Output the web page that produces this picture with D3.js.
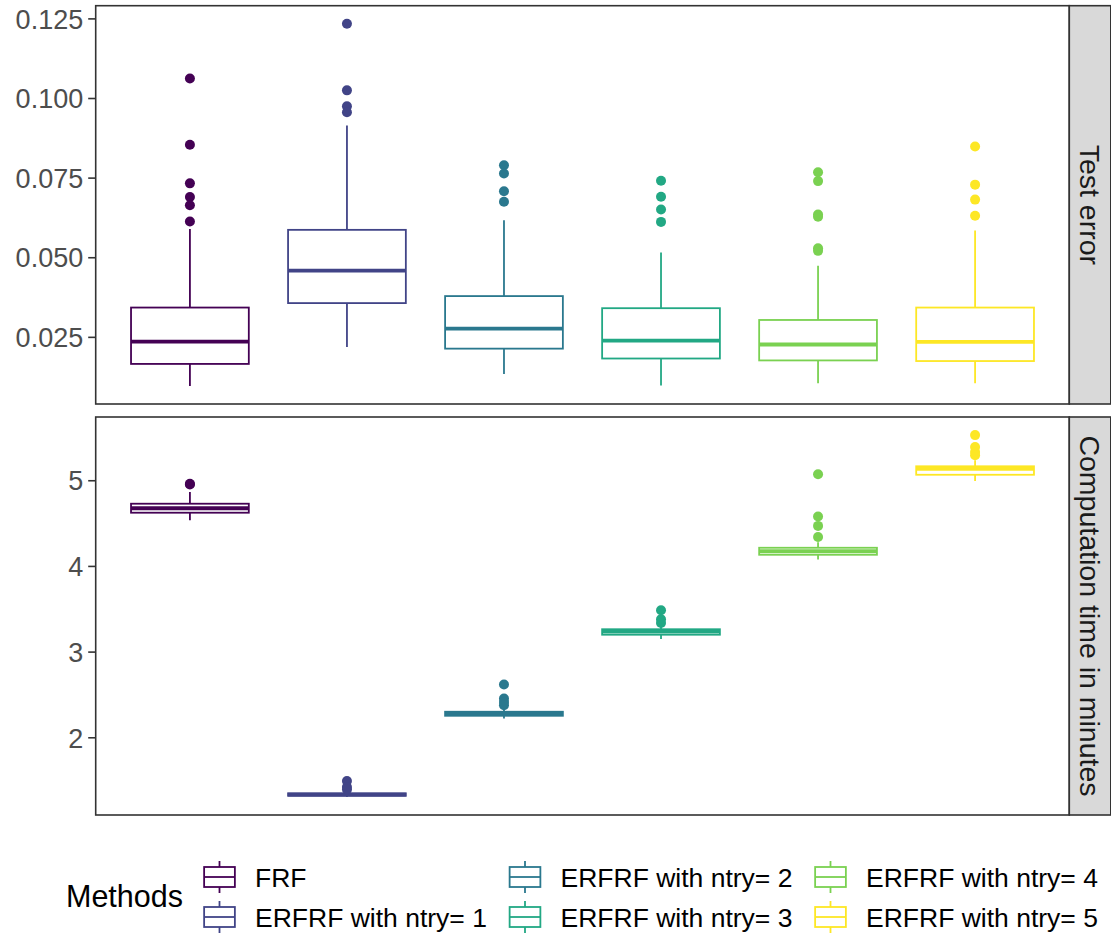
<!DOCTYPE html>
<html>
<head>
<meta charset="utf-8">
<script src="https://cdn.jsdelivr.net/npm/d3@7"></script>
<style>
  body { margin: 0; background: #fff; }
  svg { font-family: "Liberation Sans", Arial, sans-serif; }
</style>
</head>
<body>
<div id="chart"></div>
<script>
// methods and colours (viridis, 6)
const methods = ["FRF", "ERFRF with ntry= 1", "ERFRF with ntry= 2", "ERFRF with ntry= 3", "ERFRF with ntry= 4", "ERFRF with ntry= 5"];
const colors = ["#440154", "#414487", "#2A788E", "#22A884", "#7AD151", "#FDE725"];

// Test error: whiskers, quartiles, median, outliers
const errLow = [0.0096, 0.0218, 0.0133, 0.0097, 0.0104, 0.0104];
const errQ1 = [0.0165, 0.0356, 0.0213, 0.0182, 0.0176, 0.0174];
const errMed = [0.0235, 0.0458, 0.0276, 0.0238, 0.0226, 0.0234];
const errQ3 = [0.0342, 0.0586, 0.0378, 0.0340, 0.0303, 0.0342];
const errHigh = [0.0589, 0.0914, 0.0616, 0.0515, 0.0473, 0.0584];
const errOut = [
  [0.1061, 0.0853, 0.0732, 0.0689, 0.0663, 0.0612],
  [0.1233, 0.1024, 0.0974, 0.0955],
  [0.0789, 0.0763, 0.0707, 0.0674],
  [0.0740, 0.0690, 0.0650, 0.0611],
  [0.0767, 0.0739, 0.0634, 0.0627, 0.0528, 0.0520],
  [0.0848, 0.0728, 0.0681, 0.0630]
];

// Computation time in minutes
const timeLow = [4.533, 1.304, 2.218, 3.148, 4.074, 4.992];
const timeQ1 = [4.621, 1.317, 2.251, 3.197, 4.130, 5.064];
const timeMed = [4.673, 1.331, 2.274, 3.232, 4.171, 5.134];
const timeQ3 = [4.726, 1.346, 2.298, 3.261, 4.212, 5.163];
const timeHigh = [4.863, 1.370, 2.350, 3.296, 4.276, 5.233];
const timeOut = [
  [4.960, 4.950],
  [1.490, 1.420, 1.390],
  [2.615, 2.452, 2.412, 2.374],
  [3.483, 3.378, 3.334],
  [5.070, 4.576, 4.467, 4.338],
  [5.527, 5.389, 5.330, 5.292]
];

const errTicks = [0.025, 0.050, 0.075, 0.100, 0.125];
const timeTicks = [2, 3, 4, 5];

const width = 1111, height = 934;
const left = 95.7, right = 1069.3;
const stripW = 41.5;

const svg = d3.select("#chart").append("svg")
  .attr("width", width)
  .attr("height", height);

const x = d3.scalePoint()
  .domain(methods)
  .range([left, right])
  .padding(0.6);
const boxW = x.step() * 0.75;

function buildStats(lo, q1, med, q3, hi, out) {
  return methods.map((m, i) => ({
    method: m, color: colors[i],
    lo: lo[i], q1: q1[i], med: med[i], q3: q3[i], hi: hi[i], out: out[i]
  }));
}

function expandDomain(stats) {
  const mn = d3.min(stats, d => Math.min(d.lo, d3.min(d.out)));
  const mx = d3.max(stats, d => Math.max(d.hi, d3.max(d.out)));
  const pad = (mx - mn) * 0.05;
  return [mn - pad, mx + pad];
}

function drawPanel(top, bottom, stats, ticks, fmt, label) {
  const y = d3.scaleLinear().domain(expandDomain(stats)).range([bottom, top]);
  const g = svg.append("g");

  // axis
  const axis = g.append("g")
    .attr("transform", `translate(${left},0)`)
    .call(d3.axisLeft(y).tickValues(ticks).tickFormat(fmt).tickSize(7.5).tickPadding(5));
  axis.select(".domain").remove();
  axis.selectAll(".tick line").attr("stroke", "#333333").attr("stroke-width", 1.6);
  axis.selectAll(".tick text")
    .attr("fill", "#4D4D4D")
    .style("font-size", "27px")
    .attr("dy", "0.36em");

  const boxes = g.selectAll(".box").data(stats).enter().append("g");

  boxes.append("line")
    .attr("x1", d => x(d.method)).attr("x2", d => x(d.method))
    .attr("y1", d => y(d.q3)).attr("y2", d => y(d.hi))
    .attr("stroke", d => d.color).attr("stroke-width", 1.8);
  boxes.append("line")
    .attr("x1", d => x(d.method)).attr("x2", d => x(d.method))
    .attr("y1", d => y(d.q1)).attr("y2", d => y(d.lo))
    .attr("stroke", d => d.color).attr("stroke-width", 1.8);
  boxes.append("rect")
    .attr("x", d => x(d.method) - boxW / 2)
    .attr("width", boxW)
    .attr("y", d => y(d.q3))
    .attr("height", d => Math.max(0.1, y(d.q1) - y(d.q3)))
    .attr("fill", "#fff")
    .attr("stroke", d => d.color)
    .attr("stroke-width", 1.8);
  boxes.append("line")
    .attr("x1", d => x(d.method) - boxW / 2).attr("x2", d => x(d.method) + boxW / 2)
    .attr("y1", d => y(d.med)).attr("y2", d => y(d.med))
    .attr("stroke", d => d.color).attr("stroke-width", 3.8);
  boxes.selectAll("circle").data(d => d.out.map(v => ({ v: v, d: d }))).enter()
    .append("circle")
    .attr("cx", o => x(o.d.method))
    .attr("cy", o => y(o.v))
    .attr("r", 5)
    .attr("fill", o => o.d.color);

  // panel border
  g.append("rect")
    .attr("x", left).attr("y", top)
    .attr("width", right - left).attr("height", bottom - top)
    .attr("fill", "none").attr("stroke", "#333333").attr("stroke-width", 1.6);

  // strip
  g.append("rect")
    .attr("x", right).attr("y", top)
    .attr("width", stripW).attr("height", bottom - top)
    .attr("fill", "#D9D9D9").attr("stroke", "#333333").attr("stroke-width", 1.6);
  g.append("text")
    .attr("transform", `translate(${right + stripW / 2},${(top + bottom) / 2}) rotate(90)`)
    .attr("text-anchor", "middle")
    .attr("dy", "0.36em")
    .attr("fill", "#1A1A1A")
    .style("font-size", "28.5px")
    .text(label);
}

drawPanel(5.7, 404, buildStats(errLow, errQ1, errMed, errQ3, errHigh, errOut),
  errTicks, d3.format(".3f"), "Test error");
drawPanel(417, 815, buildStats(timeLow, timeQ1, timeMed, timeQ3, timeHigh, timeOut),
  timeTicks, d3.format("d"), "Computation time in minutes");

// legend
const legend = svg.append("g");
legend.append("text")
  .attr("x", 66).attr("y", 906.7)
  .attr("fill", "#000")
  .style("font-size", "30.5px")
  .text("Methods");

const keyW = 41, keyH = 40;
const colX = [199, 504.5, 810];
const rowY = [857, 897];

methods.forEach((m, i) => {
  const kx = colX[Math.floor(i / 2)], ky = rowY[i % 2];
  const k = legend.append("g").attr("transform", `translate(${kx},${ky})`);
  const c = colors[i];
  k.append("line").attr("x1", keyW / 2).attr("x2", keyW / 2)
    .attr("y1", keyH * 0.1).attr("y2", keyH * 0.9)
    .attr("stroke", c).attr("stroke-width", 1.8);
  k.append("rect")
    .attr("x", keyW * 0.125).attr("y", keyH * 0.25)
    .attr("width", keyW * 0.75).attr("height", keyH * 0.5)
    .attr("fill", "#fff").attr("stroke", c).attr("stroke-width", 1.8);
  k.append("line").attr("x1", keyW * 0.125).attr("x2", keyW * 0.875)
    .attr("y1", keyH / 2).attr("y2", keyH / 2)
    .attr("stroke", c).attr("stroke-width", 1.8);
  legend.append("text")
    .attr("x", kx + 56).attr("y", ky + keyH / 2)
    .attr("dy", "0.36em")
    .attr("fill", "#000")
    .style("font-size", "26.5px")
    .text(m);
});
</script>
</body>
</html>
